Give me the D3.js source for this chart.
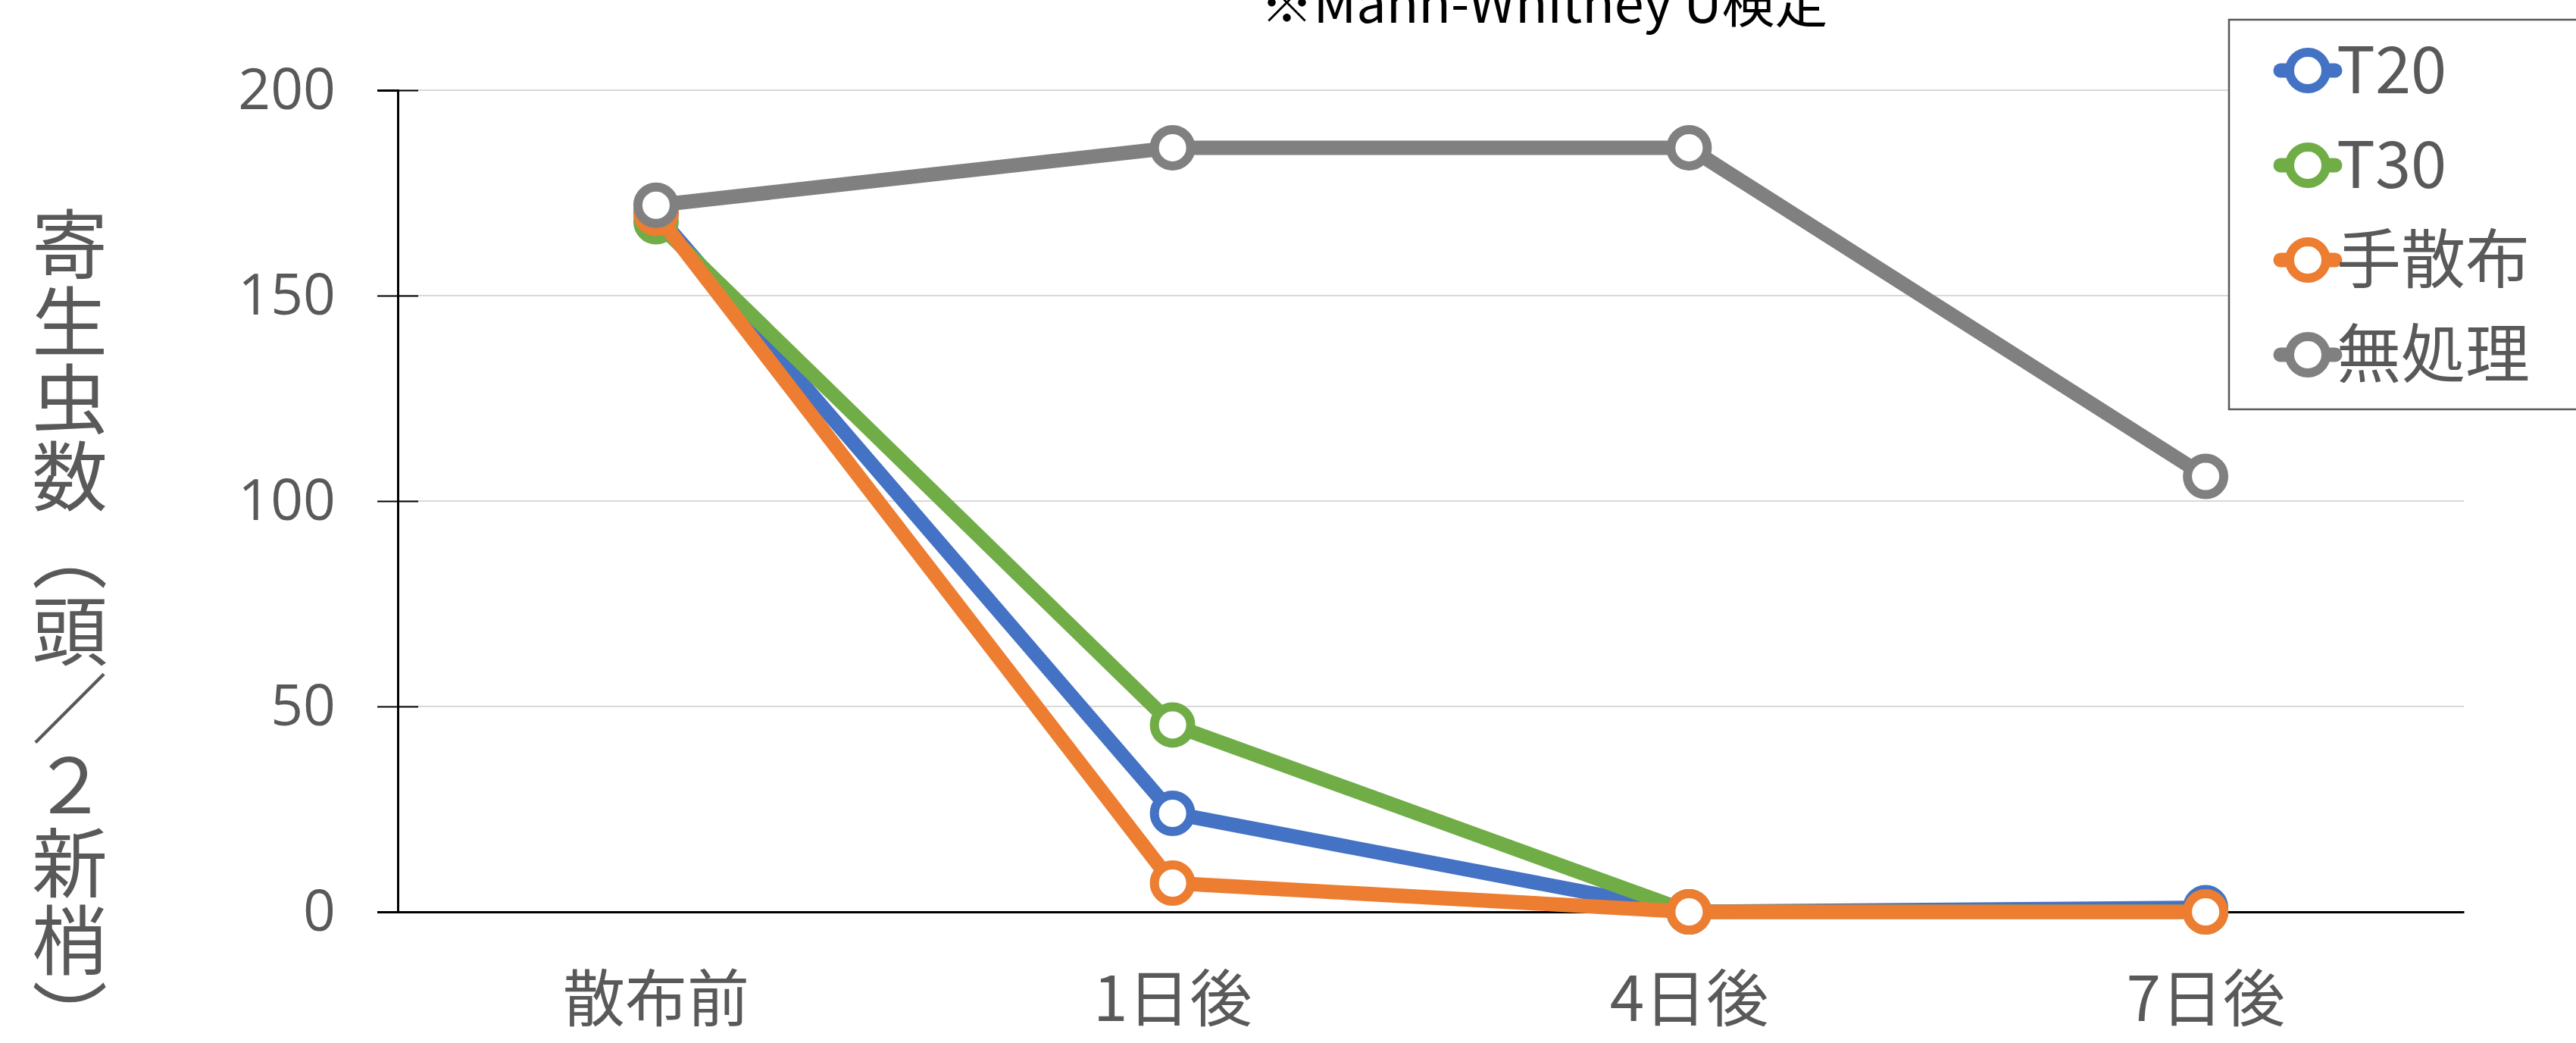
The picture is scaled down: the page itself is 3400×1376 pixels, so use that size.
<!DOCTYPE html>
<html><head><meta charset="utf-8">
<script src="https://cdn.jsdelivr.net/npm/d3@7"></script>
<style>
html,body{margin:0;padding:0;background:#fff;}
text{font-family:"Noto Sans CJK JP","Noto Sans",sans-serif;}
</style></head>
<body>
<svg id="chart" width="3400" height="1376"></svg>
<script>
const categories = ["散布前", "1日後", "4日後", "7日後"];
const seriesNames = ["T20", "T30", "手散布", "無処理"];
const t20 = [170, 24, 0, 1];
const t30 = [168, 45.5, 0, 0];
const hand = [170, 7, 0, 0];
const untreated = [172, 186, 186, 106];
const yTicks = [0, 50, 100, 150, 200];
const colors = ["#4472C4", "#70AD47", "#ED7D31", "#808080"];
const titleText = "※Mann-Whitney U検定";
const yTitle = "寄生虫数（頭／２新梢）";

const series = [t20, t30, hand, untreated];
const svg = d3.select("#chart");
const L = 525, R = 3252, T = 119, B = 1203;

const x = d3.scaleBand().domain(categories).range([L, R]);
const y = d3.scaleLinear().domain([0, 200]).range([B, T]);

// gridlines
svg.append("g").selectAll("line").data(yTicks.filter(d => d > 0)).join("line")
  .attr("x1", L).attr("x2", R).attr("y1", d => y(d)).attr("y2", d => y(d))
  .attr("stroke", "#d9d9d9").attr("stroke-width", 2);

// y axis
const yAxis = svg.append("g").attr("transform", `translate(${L},0)`)
  .call(d3.axisLeft(y).tickValues(yTicks).tickSize(27).tickPadding(55));
yAxis.select(".domain").attr("stroke", "#000").attr("stroke-width", 3);
yAxis.selectAll(".tick line").attr("stroke", "#000").attr("stroke-width", 2).attr("x2", 27).attr("x1", -27);
yAxis.selectAll(".tick text").attr("fill", "#595959").style("font-size", "75px")
  .style("font-family", "'Open Sans','Noto Sans',sans-serif").attr("x", -82);

// x axis
const xAxis = svg.append("g").attr("transform", `translate(0,${B})`)
  .call(d3.axisBottom(x).tickSize(0).tickPadding(115));
xAxis.select(".domain").attr("stroke", "#000").attr("stroke-width", 3);
xAxis.selectAll(".tick text").attr("fill", "#595959").style("font-size", "82px")
  .attr("dy", "0.35em");

// lines
const line = d3.line().x((d, i) => x(categories[i]) + x.bandwidth() / 2).y(d => y(d));
series.forEach((s, k) => {
  const g = svg.append("g");
  g.append("path").datum(s).attr("d", line).attr("fill", "none")
    .attr("stroke", colors[k]).attr("stroke-width", 19).attr("stroke-linejoin", "round");
  g.selectAll("circle").data(s).join("circle")
    .attr("cx", (d, i) => x(categories[i]) + x.bandwidth() / 2).attr("cy", d => y(d))
    .attr("r", 24).attr("fill", "#fff").attr("stroke", colors[k]).attr("stroke-width", 12);
});

// title
svg.append("text").attr("x", 2038).attr("y", 30).attr("text-anchor", "middle")
  .attr("fill", "#000").style("font-size", "70px").text(titleText);

// y title (vertical)
svg.append("text").attr("x", 92).attr("y", 272)
  .style("writing-mode", "vertical-rl").style("text-orientation", "upright")
  .style("font-size", "100px").attr("fill", "#595959").attr("letter-spacing", "2px")
  .text(yTitle);

// legend
const lg = svg.append("g");
lg.append("rect").attr("x", 2942).attr("y", 26).attr("width", 480).attr("height", 514)
  .attr("fill", "#fff").attr("stroke", "#595959").attr("stroke-width", 2.5);
const ly = d3.scalePoint().domain(seriesNames).range([93, 468]);
seriesNames.forEach((n, k) => {
  const cy = ly(n);
  lg.append("line").attr("x1", 3010).attr("x2", 3082).attr("y1", cy).attr("y2", cy)
    .attr("stroke", colors[k]).attr("stroke-width", 19).attr("stroke-linecap", "round");
  lg.append("circle").attr("cx", 3046).attr("cy", cy).attr("r", 24)
    .attr("fill", "#fff").attr("stroke", colors[k]).attr("stroke-width", 12);
  lg.append("text").attr("x", 3084).attr("y", cy).attr("dy", "0.35em")
    .attr("fill", "#595959").style("font-size", "85px").text(n);
});
</script>
</body></html>
